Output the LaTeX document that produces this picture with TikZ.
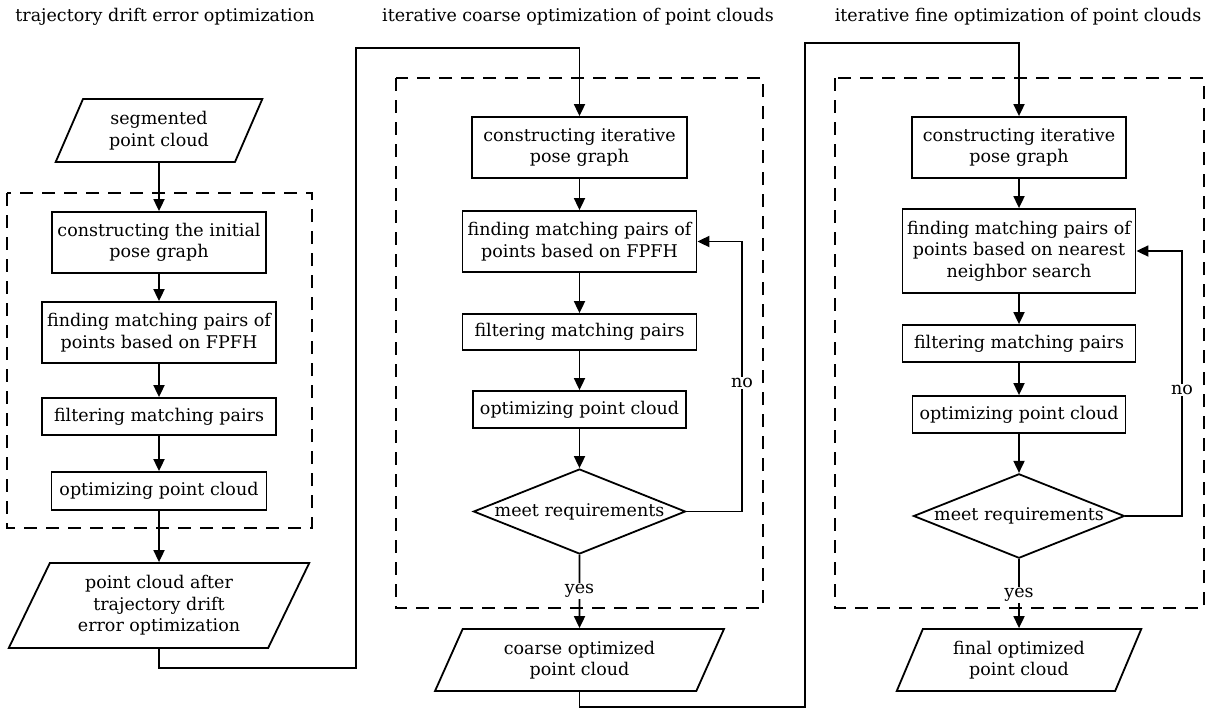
\documentclass[tikz,border=0pt]{standalone}
\usepackage{fontspec}
\setmainfont{DejaVu Serif}
\usepackage{tikz}
\usetikzlibrary{shapes.geometric,arrows.meta,calc}

\begin{document}
\begin{tikzpicture}[x=1pt,y=-1pt,
    boxfont/.style={font=\fontsize{17.5}{21.5}\selectfont},
    procbox/.style={draw,line width=1.8pt,inner sep=0pt,align=center,boxfont},
    iobox/.style={trapezium,trapezium left angle=65,trapezium right angle=115,
        trapezium stretches=true,draw,line width=1.8pt,inner sep=0pt,align=center,boxfont},
    decbox/.style={diamond,aspect=2.5,draw,line width=1.8pt,inner sep=0pt,boxfont},
    groupbox/.style={draw,line width=1.8pt,dash pattern=on 13pt off 9pt},
    flow/.style={line width=1.8pt,-{Triangle[length=12pt,width=11pt]}},
    tag/.style={fill=white,inner sep=1.5pt,boxfont},
    title/.style={boxfont}]
            \useasboundingbox (0,0) rectangle (1214,712);

            \node (title01) at (165,17) [title] {trajectory drift error optimization};
            \node (title02) at (578,17) [title] {iterative coarse optimization of point clouds};
            \node (title03) at (1018,17) [title] {iterative fine optimization of point clouds};

            \draw[groupbox] (7,193) rectangle (312,528);
            \draw[groupbox] (396,78) rectangle (763,608);
            \draw[groupbox] (835,78) rectangle (1204,608);

            \node (node01) at (159,130.5) [iobox,minimum width=207pt,minimum height=63pt] {segmented\\point cloud};
            \node (node02) at (159,242.5) [procbox,minimum width=214pt,minimum height=61pt] {constructing the initial\\pose graph};
            \node (node03) at (159,332.5) [procbox,minimum width=234pt,minimum height=61pt] {finding matching pairs of\\points based on FPFH};
            \node (node04) at (159,416.5) [procbox,minimum width=234pt,minimum height=37pt] {filtering matching pairs};
            \node (node05) at (159,491) [procbox,minimum width=215pt,minimum height=38pt] {optimizing point cloud};
            \node (node06) at (159,605.5) [iobox,trapezium left angle=63,trapezium right angle=117,minimum width=301pt,minimum height=85pt] {point cloud after\\trajectory drift\\error optimization};
            \draw[flow] (node01) -- (node02);
            \draw[flow] (node02) -- (node03);
            \draw[flow] (node03) -- (node04);
            \draw[flow] (node04) -- (node05);
            \draw[flow] (node05) -- (node06);

            \node (node07) at (579.5,147.5) [procbox,minimum width=215pt,minimum height=61pt] {constructing iterative\\pose graph};
            \node (node08) at (579.5,241.5) [procbox,minimum width=234pt,minimum height=61pt] {finding matching pairs of\\points based on FPFH};
            \node (node09) at (579.5,332) [procbox,minimum width=234pt,minimum height=36pt] {filtering matching pairs};
            \node (node10) at (579.5,409.5) [procbox,minimum width=213pt,minimum height=37pt] {optimizing point cloud};
            \node (node11) at (579.5,511.5) [decbox,minimum width=212pt,minimum height=85pt] {meet requirements};
            \node (node12) at (579.5,660) [iobox,minimum width=289pt,minimum height=62pt] {coarse optimized\\point cloud};
            \coordinate (loop01) at (742,383);
            \draw[flow] (node06.south) |- (356,668) -- (356,48) -| (node07.north);
            \draw[flow] (node07) -- (node08);
            \draw[flow] (node08) -- (node09);
            \draw[flow] (node09) -- (node10);
            \draw[flow] (node10) -- (node11);
            \draw[flow] (node11.east) -| (loop01) |- (node08.east);
            \node (no01) at (loop01) [tag] {no};
            \draw[flow] (node11.south) -- (node12.north);
            \node (yes01) at (579.5,591) [tag] {yes};

            \node (node13) at (1019,147.5) [procbox,minimum width=214pt,minimum height=61pt] {constructing iterative\\pose graph};
            \node (node14) at (1019,251) [procbox,minimum width=233pt,minimum height=84pt] {finding matching pairs of\\points based on nearest\\neighbor search};
            \node (node15) at (1019,343.5) [procbox,minimum width=233pt,minimum height=37pt] {filtering matching pairs};
            \node (node16) at (1019,414.5) [procbox,minimum width=213pt,minimum height=37pt] {optimizing point cloud};
            \node (node17) at (1019,516) [decbox,minimum width=211pt,minimum height=84pt] {meet requirements};
            \node (node18) at (1019,660) [iobox,minimum width=245pt,minimum height=62pt] {final optimized\\point cloud};
            \coordinate (loop02) at (1182,390);
            \draw[flow] (node12.south) |- (805,707) -- (805,43) -| (node13.north);
            \draw[flow] (node13) -- (node14);
            \draw[flow] (node14) -- (node15);
            \draw[flow] (node15) -- (node16);
            \draw[flow] (node16) -- (node17);
            \draw[flow] (node17.east) -| (loop02) |- (node14.east);
            \node (no02) at (loop02) [tag] {no};
            \draw[flow] (node17.south) -- (node18.north);
            \node (yes02) at (1019,595) [tag] {yes};
        \end{tikzpicture}
\end{document}
